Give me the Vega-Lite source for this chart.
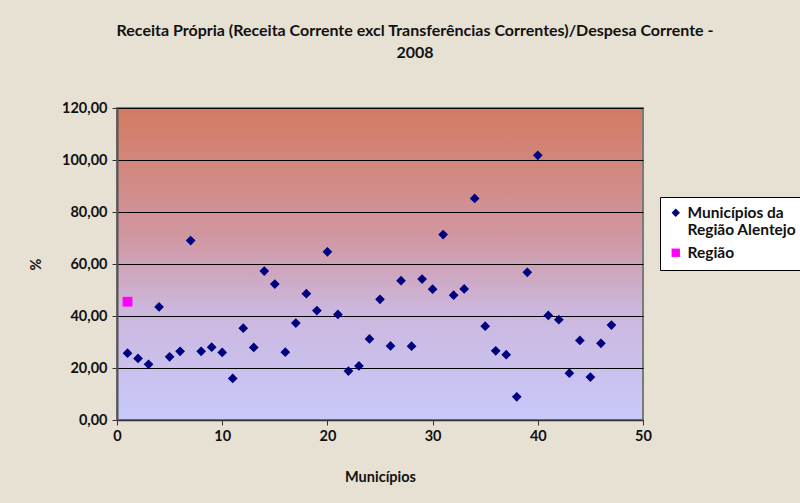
{
  "$schema": "https://vega.github.io/schema/vega-lite/v6.json",
  "autosize": "none",
  "width": 526,
  "height": 312,
  "padding": {"left": 117, "top": 108, "right": 157, "bottom": 83},
  "background": "#e7e1d4",
  "title": {
    "text": ["Receita Própria (Receita Corrente excl Transferências Correntes)/Despesa Corrente -", "2008"],
    "font": "Lato",
    "fontSize": 16,
    "fontWeight": "bold",
    "color": "#111",
    "anchor": "middle",
    "frame": "group",
    "dx": 35,
    "offset": 39,
    "lineHeight": 22
  },
  "view": {
    "fill": {"gradient": "linear", "x1": 0, "y1": 0, "x2": 0, "y2": 1,
      "stops": [
        {"offset": 0, "color": "#d37b62"},
        {"offset": 0.4, "color": "#d0969f"},
        {"offset": 0.65, "color": "#ccb7dd"},
        {"offset": 1, "color": "#c8c9fb"}
      ]},
    "stroke": "#7a7a7a",
    "strokeWidth": 2
  },
  "data": {"values": [
    {"m": 1, "v": 25.7, "s": "Municípios da Região Alentejo"},
    {"m": 2, "v": 23.7, "s": "Municípios da Região Alentejo"},
    {"m": 3, "v": 21.4, "s": "Municípios da Região Alentejo"},
    {"m": 4, "v": 43.5, "s": "Municípios da Região Alentejo"},
    {"m": 5, "v": 24.3, "s": "Municípios da Região Alentejo"},
    {"m": 6, "v": 26.4, "s": "Municípios da Região Alentejo"},
    {"m": 7, "v": 69.0, "s": "Municípios da Região Alentejo"},
    {"m": 8, "v": 26.4, "s": "Municípios da Região Alentejo"},
    {"m": 9, "v": 28.0, "s": "Municípios da Região Alentejo"},
    {"m": 10, "v": 26.0, "s": "Municípios da Região Alentejo"},
    {"m": 11, "v": 16.0, "s": "Municípios da Região Alentejo"},
    {"m": 12, "v": 35.3, "s": "Municípios da Região Alentejo"},
    {"m": 13, "v": 27.9, "s": "Municípios da Região Alentejo"},
    {"m": 14, "v": 57.3, "s": "Municípios da Região Alentejo"},
    {"m": 15, "v": 52.3, "s": "Municípios da Região Alentejo"},
    {"m": 16, "v": 26.1, "s": "Municípios da Região Alentejo"},
    {"m": 17, "v": 37.3, "s": "Municípios da Região Alentejo"},
    {"m": 18, "v": 48.6, "s": "Municípios da Região Alentejo"},
    {"m": 19, "v": 42.1, "s": "Municípios da Região Alentejo"},
    {"m": 20, "v": 64.7, "s": "Municípios da Região Alentejo"},
    {"m": 21, "v": 40.6, "s": "Municípios da Região Alentejo"},
    {"m": 22, "v": 18.8, "s": "Municípios da Região Alentejo"},
    {"m": 23, "v": 20.8, "s": "Municípios da Região Alentejo"},
    {"m": 24, "v": 31.2, "s": "Municípios da Região Alentejo"},
    {"m": 25, "v": 46.4, "s": "Municípios da Região Alentejo"},
    {"m": 26, "v": 28.5, "s": "Municípios da Região Alentejo"},
    {"m": 27, "v": 53.6, "s": "Municípios da Região Alentejo"},
    {"m": 28, "v": 28.4, "s": "Municípios da Região Alentejo"},
    {"m": 29, "v": 54.2, "s": "Municípios da Região Alentejo"},
    {"m": 30, "v": 50.3, "s": "Municípios da Região Alentejo"},
    {"m": 31, "v": 71.3, "s": "Municípios da Região Alentejo"},
    {"m": 32, "v": 48.0, "s": "Municípios da Região Alentejo"},
    {"m": 33, "v": 50.4, "s": "Municípios da Região Alentejo"},
    {"m": 34, "v": 85.2, "s": "Municípios da Região Alentejo"},
    {"m": 35, "v": 36.1, "s": "Municípios da Região Alentejo"},
    {"m": 36, "v": 26.6, "s": "Municípios da Região Alentejo"},
    {"m": 37, "v": 25.1, "s": "Municípios da Região Alentejo"},
    {"m": 38, "v": 8.9, "s": "Municípios da Região Alentejo"},
    {"m": 39, "v": 56.8, "s": "Municípios da Região Alentejo"},
    {"m": 40, "v": 101.8, "s": "Municípios da Região Alentejo"},
    {"m": 41, "v": 40.2, "s": "Municípios da Região Alentejo"},
    {"m": 42, "v": 38.6, "s": "Municípios da Região Alentejo"},
    {"m": 43, "v": 18.0, "s": "Municípios da Região Alentejo"},
    {"m": 44, "v": 30.6, "s": "Municípios da Região Alentejo"},
    {"m": 45, "v": 16.5, "s": "Municípios da Região Alentejo"},
    {"m": 46, "v": 29.5, "s": "Municípios da Região Alentejo"},
    {"m": 47, "v": 36.5, "s": "Municípios da Região Alentejo"},
    {"m": 1, "v": 45.5, "s": "Região"}
  ]},
  "mark": {"type": "point", "filled": true, "opacity": 1, "size": 95},
  "encoding": {
    "x": {
      "field": "m", "type": "quantitative",
      "scale": {"domain": [0, 50], "nice": false, "zero": true},
      "axis": {
        "title": "Municípios",
        "values": [0, 10, 20, 30, 40, 50],
        "grid": false,
        "labelFont": "Lato", "labelFontSize": 14.5, "labelFontWeight": "bold", "labelColor": "#111",
        "titleFont": "Lato", "titleFontSize": 14.5, "titleFontWeight": "bold", "titleColor": "#111",
        "titlePadding": 28,
        "labelPadding": 4,
        "domainColor": "#333", "domainWidth": 1.5,
        "tickColor": "#333", "tickSize": 5,
        "labelFlush": false
      }
    },
    "y": {
      "field": "v", "type": "quantitative",
      "scale": {"domain": [0, 120], "nice": false},
      "axis": {
        "title": "%",
        "values": [0, 20, 40, 60, 80, 100, 120],
        "labelExpr": "replace(format(datum.value, '.2f'), '.', ',')",
        "grid": true, "gridColor": "#000", "gridWidth": 1.2, "gridOpacity": 1,
        "labelFont": "Lato", "labelFontSize": 14.5, "labelFontWeight": "bold", "labelColor": "#111",
        "titleFont": "Lato", "titleFontSize": 14.5, "titleFontWeight": "bold", "titleColor": "#111",
        "titlePadding": 18,
        "labelPadding": 5,
        "domainColor": "#555", "domainWidth": 2,
        "tickColor": "#333", "tickSize": 5
      }
    },
    "color": {
      "field": "s", "type": "nominal",
      "scale": {"domain": ["Municípios da Região Alentejo", "Região"], "range": ["#000080", "#ff00ff"]},
      "legend": {
        "title": null,
        "orient": "none",
        "legendX": 543,
        "legendY": 89,
        "fillColor": "#ffffff",
        "strokeColor": "#000",
        "padding": 8,
        "labelFont": "Lato", "labelFontSize": 15.5, "labelFontWeight": "bold", "labelColor": "#111",
        "labelExpr": "datum.label == 'Municípios da Região Alentejo' ? ['Municípios da', 'Região Alentejo'] : datum.label",
        "labelLimit": 200,
        "symbolSize": 70,
        "rowPadding": 6,
        "labelOffset": 4
      }
    },
    "shape": {
      "field": "s", "type": "nominal",
      "scale": {"domain": ["Municípios da Região Alentejo", "Região"], "range": ["diamond", "square"]},
      "legend": null
    }
  }
}
